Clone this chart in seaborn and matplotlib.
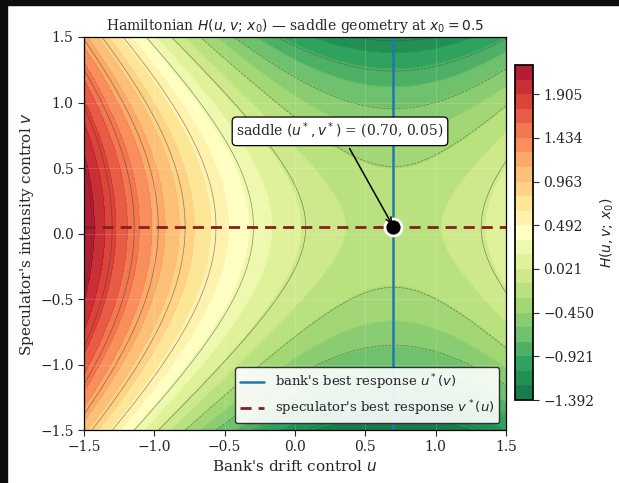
import numpy as np
import matplotlib
matplotlib.use("Agg")
import matplotlib.pyplot as plt
from matplotlib.patches import Rectangle
import seaborn as sns

# saddle of the Hamiltonian (best responses cross here)
x0 = 0.5
u_star = 0.70
v_star = 0.05
h_saddle = -0.194
curv_u = 0.4986   # convexity in the bank's control
curv_v = 0.4986   # concavity in the speculator's control

u_range = [-1.5, 1.5]
v_range = [-1.5, 1.5]
line_levels = [-1.2, -0.9, -0.6, -0.3, 0.0, 0.3, 0.6, 0.9, 1.2, 1.5, 1.8, 2.1]
n_bands = 23

sns.set_theme(style="ticks")
plt.rcParams['font.family'] = ['DejaVu Serif', 'DejaVu Sans']
plt.rcParams['mathtext.fontset'] = 'dejavusans'

# Hamiltonian on a grid
u = np.linspace(u_range[0], u_range[1], 301)
v = np.linspace(v_range[0], v_range[1], 301)
U, V = np.meshgrid(u, v)
H = h_saddle + curv_u * (U - u_star) ** 2 - curv_v * (V - v_star) ** 2

levels = np.linspace(H.min(), H.max(), n_bands + 1)

fig = plt.figure(figsize=(6.19, 4.83), dpi=100)
ax = fig.add_axes([0.1357, 0.1097, 0.6817, 0.8137])
cax = fig.add_axes([0.832, 0.1718, 0.029, 0.6936])

cmap = sns.color_palette("RdYlGn_r", as_cmap=True)
cf = ax.contourf(U, V, H, levels=levels, cmap=cmap, alpha=0.92)
ax.contour(U, V, H, levels=line_levels, colors='#333333', linewidths=0.5, alpha=0.55)

# best responses
ax.axvline(u_star, color='#1f77b4', lw=1.8, zorder=4)
ax.axhline(v_star, color='#842020', lw=2.0, ls=(0, (4, 2.5)), zorder=4)
sns.scatterplot(x=[u_star], y=[v_star], s=150, color='black', edgecolor='white',
                linewidth=2, zorder=6, ax=ax, legend=False)

ax.annotate(r"saddle $(u^*, v^*)$ = (%.2f, %.2f)" % (u_star, v_star),
            xy=(u_star, v_star), xytext=(0.32, 0.78), ha='center', va='center',
            fontsize=10,
            bbox=dict(boxstyle='round,pad=0.3', fc='white', ec='black', lw=0.9),
            arrowprops=dict(arrowstyle='->', color='black', lw=1.1), zorder=7)

ax.set_xlim(u_range)
ax.set_ylim(v_range)
ax.set_xticks([-1.5, -1.0, -0.5, 0.0, 0.5, 1.0, 1.5])
ax.set_yticks([-1.5, -1.0, -0.5, 0.0, 0.5, 1.0, 1.5])
ax.tick_params(labelsize=10, length=4, width=0.8)
ax.grid(True, color='white', alpha=0.15, lw=0.8)
ax.set_axisbelow(False)
for s in ax.spines.values():
    s.set_color('black')
    s.set_linewidth(0.9)
    s.set_zorder(8)

ax.set_xlabel(r"Bank's drift control $u$", fontsize=11, labelpad=3)
ax.set_ylabel(r"Speculator's intensity control $v$", fontsize=11, labelpad=3)
ax.set_title(r"Hamiltonian $H(u, v;\, x_0)$ — saddle geometry at $x_0 = %.1f$" % x0,
             fontsize=10, pad=5)

handles = [plt.Line2D([], [], color='#1f77b4', lw=1.8),
           plt.Line2D([], [], color='#842020', lw=2.0, ls=(0, (4, 2.5)))]
leg = ax.legend(handles, [r"bank's best response $u^*(v)$",
                          r"speculator's best response $v^*(u)$"],
                loc='lower right', fontsize=9.5, frameon=True, fancybox=True,
                framealpha=0.9, borderaxespad=0.5, handlelength=1.8)
leg.get_frame().set_edgecolor('#222222')
leg.set_zorder(9)

cb = fig.colorbar(cf, cax=cax, ticks=levels[::3])
cb.ax.set_yticklabels([("%.3f" % t).replace('-', '\u2212') for t in levels[::3]])
cb.ax.tick_params(labelsize=10, length=4, width=0.8)
cb.outline.set_edgecolor('black')
cb.set_label(r"$H(u, v;\, x_0)$", fontsize=10, labelpad=3)

# dark frame strips from the screenshot
fig.add_artist(Rectangle((0, 0), 7 / 619, 1, transform=fig.transFigure,
                         color='#0d0d0d', zorder=20))
fig.add_artist(Rectangle((0, 1 - 5 / 483), 1, 5 / 483, transform=fig.transFigure,
                         color='#0d0d0d', zorder=20))

fig.savefig("out.png", dpi=100)
